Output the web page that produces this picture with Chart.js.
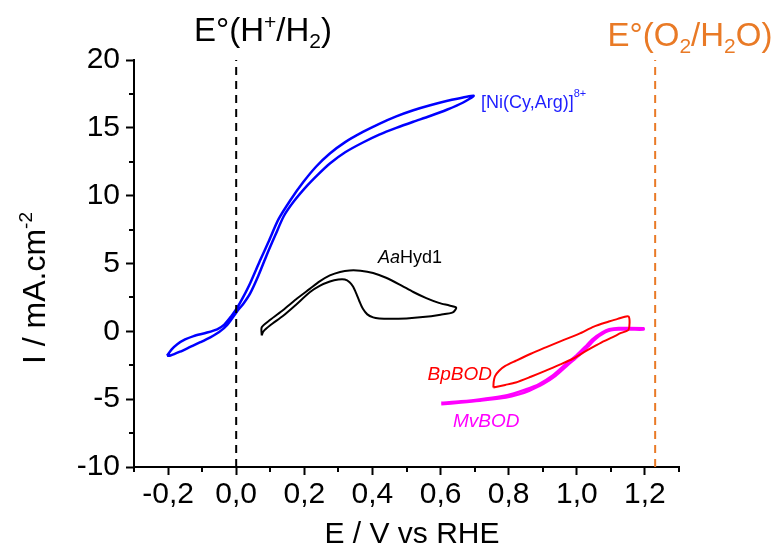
<!DOCTYPE html>
<html>
<head>
<meta charset="utf-8">
<script src="https://cdn.jsdelivr.net/npm/chart.js@4.4.0/dist/chart.umd.min.js"></script>
<style>
  html, body { margin: 0; padding: 0; background: #fff; }
</style>
</head>
<body>
<canvas id="cvChart" width="776" height="546"></canvas>
<script>
// --- data (E in V vs RHE, I in mA.cm-2) ---
// [Ni(Cy,Arg)]8+ : loop, outer branch up to the tip, then inner branch back
const niE = [-0.203, -0.19, -0.173, -0.15, -0.125, -0.09, -0.056, -0.035, -0.015, 0.002, 0.02, 0.041, 0.070, 0.095, 0.124, 0.16, 0.197, 0.235, 0.275, 0.32, 0.372, 0.42, 0.470, 0.52, 0.567, 0.63, 0.697,
             0.665, 0.62, 0.567, 0.52, 0.470, 0.42, 0.372, 0.32, 0.275, 0.24, 0.207, 0.17, 0.14, 0.115, 0.090, 0.065, 0.041, 0.02, 0.002, -0.027, -0.05, -0.076, -0.105, -0.135, -0.165, -0.193, -0.203];
const niI = [-1.80, -1.35, -0.95, -0.60, -0.35, -0.12, 0.15, 0.50, 1.10, 1.70, 2.50, 3.55, 5.22, 6.60, 8.25, 9.70, 11.00, 12.15, 13.11, 13.95, 14.70, 15.30, 15.85, 16.30, 16.65, 17.05, 17.37,
             16.85, 16.35, 15.85, 15.45, 15.00, 14.50, 13.92, 13.20, 12.37, 11.55, 10.70, 9.60, 8.50, 7.10, 5.65, 4.10, 2.80, 2.00, 1.45, 0.45, -0.05, -0.44, -0.80, -1.15, -1.50, -1.78, -1.80];

// AaHyd1
const hydE = [0.075, 0.075, 0.10, 0.138, 0.175, 0.216, 0.245, 0.275, 0.305, 0.333, 0.365, 0.402, 0.44, 0.480, 0.52, 0.558, 0.595, 0.626, 0.646,
              0.636, 0.60, 0.548, 0.50, 0.450, 0.420, 0.402, 0.385, 0.372, 0.362, 0.353, 0.343, 0.333, 0.319, 0.300, 0.275, 0.245, 0.216, 0.175, 0.138, 0.10, 0.080, 0.075];
const hydI = [-0.30, 0.30, 0.85, 1.57, 2.35, 3.13, 3.68, 4.12, 4.38, 4.49, 4.47, 4.30, 3.95, 3.45, 2.90, 2.45, 2.10, 1.90, 1.75,
              1.40, 1.23, 1.05, 0.95, 0.92, 0.95, 1.03, 1.25, 1.66, 2.20, 2.76, 3.30, 3.62, 3.82, 3.82, 3.67, 3.35, 2.88, 1.95, 1.15, 0.45, 0.00, -0.30];

// BpBOD
const bpE = [0.755, 0.79, 0.821, 0.865, 0.909, 0.95, 0.987, 1.02, 1.055, 1.08, 1.104, 1.13, 1.152,
             1.152, 1.12, 1.094, 1.05, 1.006, 0.955, 0.909, 0.865, 0.821, 0.79, 0.772, 0.760, 0.756, 0.755];
const bpI = [-4.14, -3.95, -3.77, -3.35, -2.90, -2.45, -2.04, -1.55, -1.06, -0.72, -0.44, -0.12, 0.13,
             1.09, 0.92, 0.72, 0.35, -0.19, -0.70, -1.18, -1.65, -2.17, -2.55, -2.90, -3.30, -3.70, -4.14];

// MvBOD
const mvE = [0.602, 0.66, 0.714, 0.792, 0.83, 0.860, 0.90, 0.938, 0.975, 1.006, 1.032, 1.055, 1.084, 1.10, 1.123, 1.16, 1.196,
             1.196, 1.123, 1.095, 1.075, 1.047, 1.024, 0.998, 0.966, 0.928, 0.888, 0.848, 0.815, 0.78, 0.714, 0.66, 0.602];
const mvI = [-5.37, -5.25, -5.12, -4.88, -4.65, -4.38, -3.90, -3.27, -2.45, -1.79, -1.15, -0.56, -0.07, 0.08, 0.13, 0.13, 0.13,
             0.22, 0.24, 0.15, -0.07, -0.56, -1.15, -1.79, -2.45, -3.27, -3.90, -4.30, -4.57, -4.78, -5.02, -5.16, -5.27];

// standard potentials (dashed lines)
const eH = 0.0;
const eO = 1.23;

const xMajor = [-0.2, 0.0, 0.2, 0.4, 0.6, 0.8, 1.0, 1.2];
const xMinor = [-0.3, -0.1, 0.1, 0.3, 0.5, 0.7, 0.9, 1.1, 1.3];
const yMinor = [-7.5, -2.5, 2.5, 7.5, 12.5, 17.5];

const FONT = '"Liberation Sans", Arial, sans-serif';

function pts(xs, ys) {
  return xs.map((x, i) => ({ x: x, y: ys[i] }));
}

function curve(data, color, width) {
  return {
    data: data,
    showLine: true,
    borderColor: color,
    borderWidth: width,
    pointRadius: 0,
    fill: false,
    tension: 0.25,
  };
}

function vline(x, color) {
  return {
    data: [{ x: x, y: -10 }, { x: x, y: 20 }],
    showLine: true,
    borderColor: color,
    borderWidth: 2,
    borderDash: [8, 6],
    pointRadius: 0,
    fill: false,
  };
}

// draw a line of text made of parts: [text, size, dy, italic]
function rich(ctx, x, y, parts, color, align) {
  let w = 0;
  parts.forEach(p => {
    ctx.font = (p[3] ? 'italic ' : '') + p[1] + 'px ' + FONT;
    w += ctx.measureText(p[0]).width;
  });
  let cx = align === 'center' ? x - w / 2 : align === 'right' ? x - w : x;
  ctx.fillStyle = color;
  ctx.textAlign = 'left';
  ctx.textBaseline = 'alphabetic';
  parts.forEach(p => {
    ctx.font = (p[3] ? 'italic ' : '') + p[1] + 'px ' + FONT;
    ctx.fillText(p[0], cx, y + p[2]);
    cx += ctx.measureText(p[0]).width;
  });
}

const extras = {
  id: 'extras',
  afterDraw(chart) {
    const ctx = chart.ctx;
    const xs = chart.scales.x, ys = chart.scales.y;
    ctx.save();
    // minor ticks
    ctx.strokeStyle = '#000';
    ctx.lineWidth = 2;
    ctx.beginPath();
    xMinor.forEach(v => {
      const px = Math.round(xs.getPixelForValue(v));
      ctx.moveTo(px, xs.top);
      ctx.lineTo(px, xs.top + 5);
    });
    yMinor.forEach(v => {
      const py = Math.round(ys.getPixelForValue(v));
      ctx.moveTo(ys.right, py);
      ctx.lineTo(ys.right - 5, py);
    });
    ctx.stroke();

    // top labels
    rich(ctx, 263, 41, [['E°(H', 33, 0], ['+', 21, -12], ['/H', 33, 0], ['2', 21, 7], [')', 33, 0]], '#000', 'center');
    rich(ctx, 690, 46, [['E°(O', 33, 0], ['2', 21, 7], ['/H', 33, 0], ['2', 21, 7], ['O)', 33, 0]], '#e97a26', 'center');

    // curve labels
    rich(ctx, 481, 108, [['[Ni(Cy,Arg)]', 18, 0], ['8+', 11, -11]], '#1f1fff', 'left');
    rich(ctx, 378, 263, [['Aa', 18, 0, true], ['Hyd1', 18, 0]], '#000', 'left');
    rich(ctx, 492, 380, [['BpBOD', 19, 0, true]], '#ff0000', 'right');
    rich(ctx, 453, 427, [['MvBOD', 19, 0, true]], '#ff00ff', 'left');

    // axis titles
    rich(ctx, 412, 543, [['E / V vs RHE', 30, 0]], '#000', 'center');
    ctx.translate(45, 288);
    ctx.rotate(-Math.PI / 2);
    rich(ctx, 0, 0, [['I / mA.cm', 32, 0], ['-2', 19, -13]], '#000', 'center');
    ctx.restore();
  }
};

new Chart(document.getElementById('cvChart'), {
  type: 'scatter',
  data: {
    datasets: [
      vline(eH, '#000000'),
      vline(eO, '#e97a26'),
      curve(pts(niE, niI), '#0000ff', 2.5),
      curve(pts(hydE, hydI), '#000000', 2),
      curve(pts(bpE, bpI), '#ff0000', 2),
      curve(pts(mvE, mvI), '#ff00ff', 2.5),
    ],
  },
  options: {
    responsive: false,
    animation: false,
    layout: { padding: { top: 60, right: 97, bottom: 0, left: 0 } },
    plugins: {
      legend: { display: false },
      tooltip: { enabled: false },
    },
    scales: {
      x: {
        type: 'linear',
        min: -0.3,
        max: 1.3,
        afterBuildTicks: s => { s.ticks = xMajor.map(v => ({ value: v })); },
        afterFit: s => { s.height = 79; },
        ticks: {
          autoSkip: false,
          maxRotation: 0,
          padding: 2,
          color: '#000',
          font: { family: FONT, size: 30 },
          callback: v => v.toFixed(1).replace('.', ','),
        },
        grid: { display: true, drawOnChartArea: false, drawTicks: true, tickLength: 8, tickWidth: 2, tickColor: '#000' },
        border: { display: true, color: '#000', width: 2 },
      },
      y: {
        min: -10,
        max: 20,
        afterFit: s => { s.width = 134; },
        ticks: {
          stepSize: 5,
          padding: 6,
          color: '#000',
          font: { family: FONT, size: 30 },
        },
        grid: { display: true, drawOnChartArea: false, drawTicks: true, tickLength: 8, tickWidth: 2, tickColor: '#000' },
        border: { display: true, color: '#000', width: 2 },
      },
    },
  },
  plugins: [extras],
});
</script>
</body>
</html>
